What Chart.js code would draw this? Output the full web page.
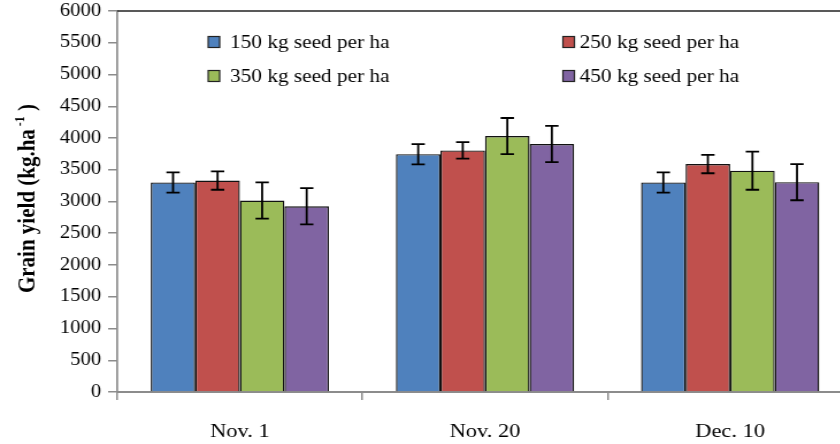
<!DOCTYPE html>
<html>
<head>
<meta charset="utf-8">
<script src="https://cdn.jsdelivr.net/npm/chart.js@4.4.0/dist/chart.umd.min.js"></script>
<style>
  html, body { margin: 0; padding: 0; background: #fff; overflow: hidden; }
  /* the reference is stretched a little horizontally, so draw narrow and scale */
  #wrap { width: 745px; height: 444px; transform: scaleX(1.15); transform-origin: 0 0; }
</style>
</head>
<body>
<div id="wrap"><canvas id="yieldChart"></canvas></div>
<script>
// sowing dates on the x axis
const sowingDates = ['Nov. 1', 'Nov. 20', 'Dec. 10'];
const seedRates = ['150 kg seed per ha', '250 kg seed per ha', '350 kg seed per ha', '450 kg seed per ha'];

// grain yield (kg/ha) per seed rate, one value per sowing date
const yield150 = [3300, 3745, 3300];
const yield250 = [3330, 3805, 3590];
const yield350 = [3015, 4030, 3485];
const yield450 = [2925, 3905, 3305];

// error bar half-heights
const err150 = [160, 160, 160];
const err250 = [145, 130, 145];
const err350 = [285, 285, 300];
const err450 = [285, 285, 285];

const colors = ['#4F81BD', '#C0504D', '#9BBB59', '#8064A2'];
const serif = '"Liberation Serif", "Times New Roman", serif';
const axisGray = '#8c8c8c';

const errorBars = {
  id: 'errorBars',
  afterDatasetsDraw(chart) {
    const ctx = chart.ctx;
    const y = chart.scales.y;
    ctx.save();
    ctx.strokeStyle = '#000';
    ctx.lineWidth = 1.8;
    chart.data.datasets.forEach((ds, i) => {
      chart.getDatasetMeta(i).data.forEach((bar, j) => {
        const v = ds.data[j], e = ds.errors[j];
        const top = y.getPixelForValue(v + e);
        const bot = y.getPixelForValue(v - e);
        const cap = 5.8;
        ctx.beginPath();
        ctx.moveTo(bar.x, top); ctx.lineTo(bar.x, bot);
        ctx.moveTo(bar.x - cap, top); ctx.lineTo(bar.x + cap, top);
        ctx.moveTo(bar.x - cap, bot); ctx.lineTo(bar.x + cap, bot);
        ctx.stroke();
      });
    });
    ctx.restore();
  }
};

const extras = {
  id: 'extras',
  afterDraw(chart) {
    const ctx = chart.ctx;
    const area = chart.chartArea;
    ctx.save();

    // thin dark line along the top of the plot
    ctx.strokeStyle = '#222';
    ctx.lineWidth = 1.3;
    ctx.beginPath();
    ctx.moveTo(area.left, area.top);
    ctx.lineTo(area.right, area.top);
    ctx.stroke();

    // legend, two columns inside the plot
    const cols = [181, 489.5];
    const textX = [200, 504];
    const rows = [42, 76];
    ctx.font = '18.5px ' + serif;
    ctx.textBaseline = 'middle';
    ctx.textAlign = 'left';
    chart.data.datasets.forEach((ds, i) => {
      const c = i % 2, r = Math.floor(i / 2);
      ctx.fillStyle = ds.backgroundColor;
      ctx.fillRect(cols[c], rows[r] - 5.5, 10, 11);
      ctx.strokeStyle = '#222';
      ctx.lineWidth = 1.2;
      ctx.strokeRect(cols[c], rows[r] - 5.5, 10, 11);
      ctx.fillStyle = '#000';
      ctx.fillText(ds.label, textX[c], rows[r] + 1);
    });

    // rotated y axis title with superscript
    const cy = (area.top + area.bottom) / 2 - 3;
    ctx.translate(23.5, cy);
    ctx.rotate(-Math.PI / 2);
    const main = 'Grain yield (kg.ha';
    const sup = '-1';
    const tail = ' )';
    ctx.font = 'bold 21px ' + serif;
    const w1 = ctx.measureText(main).width;
    const w3 = ctx.measureText(tail).width;
    ctx.font = 'bold 12px ' + serif;
    const w2 = ctx.measureText(' ' + sup).width;
    let x = -(w1 + w2 + w3) / 2;
    ctx.fillStyle = '#000';
    ctx.textBaseline = 'alphabetic';
    ctx.font = 'bold 21px ' + serif;
    ctx.fillText(main, x, 6);
    x += w1;
    ctx.font = 'bold 12px ' + serif;
    ctx.fillText(' ' + sup, x, -3);
    x += w2;
    ctx.font = 'bold 21px ' + serif;
    ctx.fillText(tail, x, 6);

    ctx.restore();
  }
};

const yieldSeries = [yield150, yield250, yield350, yield450];
const errSeries = [err150, err250, err350, err450];

function draw() {
  new Chart(document.getElementById('yieldChart'), {
    type: 'bar',
    data: {
      labels: sowingDates,
      datasets: seedRates.map((label, i) => ({
        label: label,
        data: yieldSeries[i],
        errors: errSeries[i],
        backgroundColor: colors[i],
        borderColor: '#111',
        borderWidth: 1.4,
        categoryPercentage: 0.727,
        barPercentage: 1.0
      }))
    },
    options: {
      responsive: true,
      maintainAspectRatio: false,
      animation: false,
      layout: { padding: { top: 11, right: 3.5, left: 0, bottom: 0 } },
      plugins: {
        legend: { display: false },
        tooltip: { enabled: false }
      },
      scales: {
        x: {
          grid: { drawOnChartArea: false, drawTicks: true, tickLength: 8, color: axisGray, lineWidth: 1.5, offset: true },
          border: { color: axisGray, width: 2 },
          ticks: { color: '#000', font: { family: serif, size: 19.5 }, padding: 20 },
          afterFit(scale) { scale.height = 52; }
        },
        y: {
          min: 0,
          max: 6000,
          grid: { drawOnChartArea: false, drawTicks: true, tickLength: 8, color: axisGray, lineWidth: 1.5 },
          border: { color: axisGray, width: 1.7 },
          ticks: {
            stepSize: 500,
            color: '#000',
            font: { family: serif, size: 18 },
            padding: 6,
            callback: v => String(v)
          },
          afterFit(scale) {
            scale.width = 102;
            scale.paddingTop = 0;
            scale.paddingBottom = 0;
          }
        }
      }
    },
    plugins: [errorBars, extras]
  });
}

// make sure the serif faces are ready before drawing on the canvas
Promise.all([
  document.fonts.load('18px "Liberation Serif"'),
  document.fonts.load('bold 18px "Liberation Serif"')
]).then(draw, draw);
</script>
</body>
</html>
